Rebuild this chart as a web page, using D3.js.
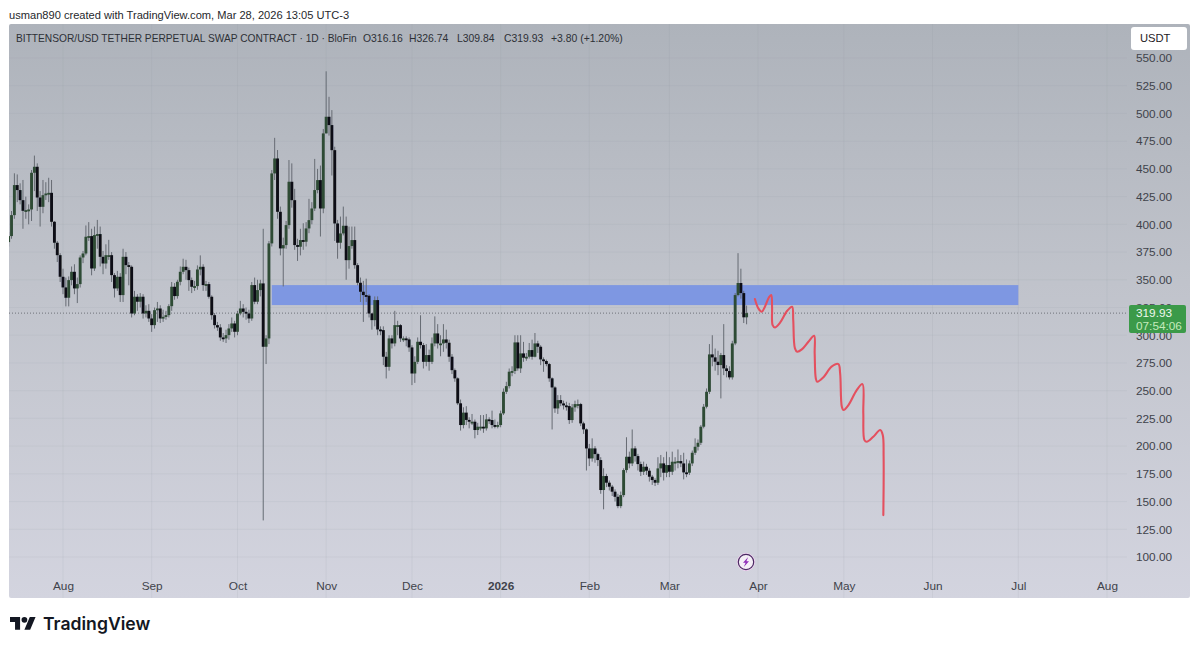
<!DOCTYPE html>
<meta charset="utf-8">
<style>

html, body {
  margin: 0;
  background: #fff;
  overflow: hidden;
}

text {
  font-family: "Liberation Sans", Arial, sans-serif;
}

.tick text {
  fill: #3f434b;
  font-size: 11.8px;
}

</style>
<body>
<script src="https://d3js.org/d3.v7.js"></script>
<script>

const width = 1199;

const height = 650;

const pane = {left: 9, right: 1190, top: 24, bottom: 598};

const plotRight = 1127;

// first candle of the chart, one candle a day from here
const firstDay = new Date(2025, 6, 13);

const closes = [
  389.4, 408.3, 435.4, 430.9, 421.8, 412.2, 412.8, 413.4, 446.5, 451.9,
  424.2, 415.8, 426.3, 427.8, 428.4, 402.3, 383.4, 372.2, 352.7, 343.1,
  333.8, 349.7, 357.2, 342.2, 346.1, 370.1, 373.7, 388.8, 389.4, 360.2,
  390.3, 391.2, 370.7, 364.7, 372.2, 372.2, 354.2, 342.2, 352.7, 336.2,
  370.7, 363.2, 361.7, 319.6, 334.7, 330.2, 334.7, 319.6, 322.0, 315.1,
  309.1, 322.6, 324.1, 315.1, 316.6, 318.1, 326.2, 343.7, 335.3, 348.2,
  357.2, 361.7, 358.7, 349.7, 343.7, 344.3, 359.3, 361.7, 345.2, 346.1,
  334.7, 318.1, 309.1, 307.0, 298.0, 297.1, 300.1, 306.1, 310.6, 303.1,
  319.6, 324.1, 321.1, 319.6, 315.1, 345.2, 330.2, 340.7, 346.7, 289.6,
  297.1, 382.8, 445.9, 459.4, 411.3, 378.3, 381.3, 399.3, 438.4, 421.8,
  381.3, 379.8, 385.8, 384.3, 396.3, 403.8, 414.3, 430.9, 439.9, 414.3,
  482.0, 497.0, 489.5, 466.9, 400.8, 383.4, 391.8, 398.7, 367.7, 380.4,
  385.8, 363.2, 347.3, 339.2, 336.2, 335.6, 319.6, 313.6, 331.7, 305.2,
  304.6, 280.6, 271.5, 297.1, 292.6, 309.1, 309.1, 297.1, 297.1, 296.2,
  289.0, 265.5, 276.0, 294.1, 291.1, 276.0, 282.1, 276.0, 292.6, 301.6,
  292.6, 292.6, 296.2, 293.2, 280.6, 268.5, 261.1, 238.6, 219.0, 230.2,
  223.6, 222.0, 222.0, 214.5, 217.5, 217.5, 216.0, 224.1, 223.5, 219.0,
  218.4, 219.0, 229.5, 249.0, 254.1, 267.1, 267.7, 293.5, 270.1, 283.6,
  279.7, 280.6, 286.6, 280.6, 292.6, 289.6, 278.2, 276.7, 274.0, 261.1,
  252.9, 234.0, 241.5, 238.5, 236.7, 236.1, 223.5, 234.9, 237.9, 237.9,
  220.5, 215.1, 197.9, 188.9, 197.9, 192.8, 187.4, 160.4, 173.0, 167.0,
  163.4, 158.9, 154.3, 145.9, 155.8, 178.4, 190.4, 184.4, 197.9, 191.0,
  183.8, 176.9, 181.4, 177.8, 172.4, 169.4, 167.0, 179.9, 184.4, 176.0,
  182.9, 176.9, 185.9, 185.9, 186.5, 184.4, 176.3, 176.0, 184.4, 194.0,
  199.4, 203.0, 217.5, 235.5, 249.0, 282.7, 280.0, 276.1, 273.1, 282.1,
  270.1, 267.7, 262.0, 292.6, 336.2, 347.1, 338.0, 316.16, 319.93
];

const highs = [
  393, 412, 446, 445, 437, 440, 425, 418, 449, 462,
  455, 430, 440, 438, 442, 440, 403, 385, 374, 360,
  352, 353, 362, 364, 352, 372, 376, 399, 402, 396,
  398, 404, 398, 376, 382, 386, 375, 356, 358, 356,
  378, 375, 366, 363, 340, 337, 338, 337, 327, 328,
  319, 325, 330, 327, 323, 322, 328, 348, 347, 350,
  362, 369, 368, 361, 352, 349, 363, 372, 364, 349,
  348, 336, 320, 312, 310, 302, 305, 310, 316, 313,
  322, 331, 328, 325, 323, 348, 352, 350, 350, 396,
  300, 385, 449, 478, 467, 416, 388, 403, 458, 455,
  432, 387, 396, 401, 402, 423, 420, 459, 450, 453,
  486, 538, 515, 503, 470, 404, 407, 416, 407, 398,
  398, 398, 365, 352, 349, 351, 337, 320, 335, 335,
  308, 308, 285, 300, 300, 322, 313, 310, 299, 299,
  298, 291, 281, 298, 318, 293, 292, 287, 298, 317,
  310, 300, 310, 305, 296, 283, 270, 262, 242, 235,
  236, 226, 229, 224, 221, 228, 228, 229, 226, 232,
  224, 222, 232, 252, 258, 270, 272, 300, 300, 300,
  294, 284, 293, 296, 302, 295, 291, 280, 278, 275,
  262, 254, 246, 246, 241, 240, 239, 238, 241, 242,
  239, 222, 216, 202, 207, 200, 194, 190, 180, 175,
  169, 165, 161, 157, 159, 180, 208, 195, 215, 200,
  193, 186, 186, 184, 180, 174, 171, 190, 192, 190,
  195, 190, 195, 190, 197, 192, 194, 188, 187, 196,
  207, 206, 219, 238, 252, 292, 300, 288, 286, 284,
  310, 273, 272, 295, 338, 374, 360, 340, 326.74
];

const lows = [
  380, 387, 405, 420, 418, 396, 405, 400, 403, 430,
  412, 398, 410, 422, 420, 398, 378, 366, 348, 337,
  326, 326, 345, 337, 329, 343, 365, 372, 385, 354,
  358, 378, 362, 355, 360, 368, 348, 334, 340, 330,
  330, 355, 345, 316, 318, 322, 325, 315, 316, 312,
  303, 306, 312, 311, 312, 314, 316, 322, 332, 333,
  345, 355, 350, 340, 338, 340, 341, 354, 340, 340,
  333, 314, 306, 304, 295, 294, 293, 296, 303, 298,
  300, 318, 316, 314, 311, 313, 328, 328, 335, 133,
  274, 292, 380, 440, 405, 372, 344, 378, 396, 415,
  377, 367, 372, 377, 380, 392, 400, 412, 428, 389,
  410, 482, 480, 444, 385, 369, 378, 390, 350, 360,
  378, 360, 345, 330, 312, 330, 316, 305, 308, 300,
  300, 273, 261, 268, 288, 290, 300, 294, 294, 290,
  285, 255, 257, 274, 288, 270, 272, 268, 274, 290,
  288, 281, 285, 288, 276, 265, 258, 237, 214, 216,
  219, 216, 219, 207, 210, 214, 212, 214, 220, 216,
  216, 216, 217, 228, 247, 252, 263, 265, 268, 266,
  276, 277, 279, 278, 280, 284, 273, 267, 272, 258,
  215, 230, 229, 236, 233, 232, 220, 221, 231, 234,
  218, 211, 178, 182, 186, 185, 182, 157, 143, 163,
  160, 155, 150, 144, 144, 154, 176, 180, 182, 186,
  178, 173, 174, 174, 168, 165, 164, 165, 172, 169,
  172, 172, 174, 178, 180, 181, 170, 172, 174, 182,
  192, 196, 201, 216, 234, 247, 272, 268, 264, 243,
  264, 262, 260, 260, 291, 335, 333, 311, 309.84
];

const firstOpen = 384;

// hand drawn projection: days after the last candle, and price
const sketchDays = [
  2.9, 4.1, 5.3, 6.4, 7.8, 8.6, 8.9, 9.1, 9.9, 11.7, 14.2, 15.9, 16.3,
  16.9, 17.7, 19.3, 21.6, 23.6, 23.8, 24.2, 24.7, 26.8, 29.7, 32.1, 32.7,
  33.3, 33.9, 35.6, 38.5, 40.5, 40.8, 41.2, 42.0, 44.3, 46.7, 47.6, 47.9, 47.8
];

const sketchPrices = [
  332.6, 324.2, 321.2, 325.7, 334.1, 336.2, 325.7, 309.1, 307.0, 311.3, 322.1, 325.7, 313.7,
  288.1, 285.1, 287.2, 294.1, 299.5, 283.6, 261.0, 258.0, 261.9, 271.6, 274.0, 265.6,
  235.5, 232.5, 237.0, 250.5, 255.9, 229.5, 205.4, 203.9, 208.4, 214.5, 210.0, 190.4, 137.8
];

const zoneDates = [new Date(2025, 9, 13), new Date(2026, 6, 1)];

const zonePrices = [345.2, 327.2];

const priceTicks = d3.range(100, 551, 25);

const monthTicks = [
  new Date(2025, 7, 1), new Date(2025, 8, 1), new Date(2025, 9, 1), new Date(2025, 10, 1),
  new Date(2025, 11, 1), new Date(2026, 0, 1), new Date(2026, 1, 1), new Date(2026, 2, 1),
  new Date(2026, 3, 1), new Date(2026, 4, 1), new Date(2026, 5, 1), new Date(2026, 6, 1),
  new Date(2026, 7, 1)
];

const lastPrice = 319.93;

const dayMs = 86400000;

const xScale = d3.scaleTime()
    .domain([new Date(2025, 7, 1), new Date(2026, 7, 1)])
    .range([63, 1107]);

const yScale = d3.scaleLinear()
    .domain([100, 550])
    .range([557, 58]);

const svg = d3.select("body").append("svg")
    .attr("width", width)
    .attr("height", height)
    .style("display", "block");

const defs = svg.append("defs");

const bg = defs.append("linearGradient")
    .attr("id", "paneBg")
    .attr("x1", 0).attr("x2", 0).attr("y1", 0).attr("y2", 1);

bg.append("stop").attr("offset", "0%").attr("stop-color", "#aeb3bb");
bg.append("stop").attr("offset", "45%").attr("stop-color", "#c0c3cb");
bg.append("stop").attr("offset", "100%").attr("stop-color", "#d3d4df");

defs.append("clipPath")
    .attr("id", "plotClip")
  .append("rect")
    .attr("x", pane.left)
    .attr("y", pane.top)
    .attr("width", plotRight - pane.left)
    .attr("height", pane.bottom - pane.top);

defs.append("filter")
    .attr("id", "soft")
    .attr("x", "-5%").attr("y", "-5%").attr("width", "110%").attr("height", "110%")
  .append("feGaussianBlur")
    .attr("stdDeviation", 0.35);

svg.append("text")
    .attr("x", 9)
    .attr("y", 19)
    .attr("font-size", 11.1)
    .attr("fill", "#26282c")
    .text("usman890 created with TradingView.com, Mar 28, 2026 13:05 UTC-3");

svg.append("rect")
    .attr("x", pane.left)
    .attr("y", pane.top)
    .attr("width", pane.right - pane.left)
    .attr("height", pane.bottom - pane.top)
    .attr("rx", 2)
    .attr("fill", "url(#paneBg)");

// grid
const plot = svg.append("g").attr("clip-path", "url(#plotClip)");

plot.selectAll("line.hgrid")
    .data(priceTicks)
    .enter()
    .append("line")
      .attr("class", "hgrid")
      .attr("x1", pane.left)
      .attr("x2", plotRight)
      .attr("y1", d => yScale(d))
      .attr("y2", d => yScale(d))
      .attr("stroke", "#8d929c")
      .attr("stroke-opacity", 0.1);

plot.selectAll("line.vgrid")
    .data(monthTicks)
    .enter()
    .append("line")
      .attr("class", "vgrid")
      .attr("x1", d => xScale(d))
      .attr("x2", d => xScale(d))
      .attr("y1", pane.top)
      .attr("y2", pane.bottom)
      .attr("stroke", "#8d929c")
      .attr("stroke-opacity", 0.12);

plot.append("rect")
    .attr("x", xScale(zoneDates[0]))
    .attr("y", yScale(zonePrices[0]))
    .attr("width", xScale(zoneDates[1]) - xScale(zoneDates[0]))
    .attr("height", yScale(zonePrices[1]) - yScale(zonePrices[0]))
    .attr("fill", "#7e97e2");

plot.append("line")
    .attr("x1", pane.left)
    .attr("x2", plotRight)
    .attr("y1", yScale(lastPrice))
    .attr("y2", yScale(lastPrice))
    .attr("stroke", "#6f737a")
    .attr("stroke-dasharray", "1 2");

// candles
const candles = closes.map((close, i) => ({
  date: new Date(firstDay.getTime() + i * dayMs),
  open: i ? closes[i - 1] : firstOpen,
  close: close,
  high: highs[i],
  low: lows[i]
}));

const candleG = plot.append("g").attr("filter", "url(#soft)");

candleG.selectAll("line.wick")
    .data(candles)
    .enter()
    .append("line")
      .attr("class", "wick")
      .attr("x1", d => xScale(d.date))
      .attr("x2", d => xScale(d.date))
      .attr("y1", d => yScale(d.high))
      .attr("y2", d => yScale(d.low))
      .attr("stroke", "#666b73")
      .attr("stroke-width", 1);

candleG.selectAll("rect.body")
    .data(candles)
    .enter()
    .append("rect")
      .attr("class", "body")
      .attr("x", d => xScale(d.date) - 1.45)
      .attr("width", 2.9)
      .attr("y", d => yScale(Math.max(d.open, d.close)))
      .attr("height", d => Math.max(1.8, Math.abs(yScale(d.open) - yScale(d.close))))
      .attr("fill", d => d.close >= d.open ? "#2f4b36" : "#0c0f15");

// projection
const sketchLine = d3.line()
    .x(d => xScale(new Date(candles[candles.length - 1].date.getTime() + d[0] * dayMs)))
    .y(d => yScale(d[1]))
    .curve(d3.curveCatmullRom.alpha(0.5));

plot.append("path")
    .attr("d", sketchLine(sketchDays.map((d, i) => [d, sketchPrices[i]])))
    .attr("fill", "none")
    .attr("stroke", "#e4505f")
    .attr("stroke-width", 2.1)
    .attr("stroke-linejoin", "round")
    .attr("stroke-linecap", "round");

// axes
const yAxis = d3.axisRight(yScale)
    .tickValues(priceTicks)
    .tickFormat(d3.format(".2f"))
    .tickSize(0)
    .tickPadding(0);

svg.append("g")
    .attr("transform", "translate(1136, 0)")
    .call(yAxis)
    .call(g => g.select(".domain").remove());

const monthFormat = d3.timeFormat("%b");

const xAxis = d3.axisBottom(xScale)
    .tickValues(monthTicks)
    .tickFormat(d => d.getMonth() === 0 ? d.getFullYear() : monthFormat(d))
    .tickSize(0)
    .tickPadding(0);

svg.append("g")
    .attr("transform", "translate(0, 582)")
    .call(xAxis)
    .call(g => g.select(".domain").remove())
    .call(g => g.selectAll(".tick text")
        .filter(d => d.getMonth() === 0)
        .style("font-weight", 700));

// legend line
const legend = svg.append("text")
    .attr("x", 16)
    .attr("y", 42)
    .attr("font-size", 10.4)
    .attr("fill", "#2d3036");

legend.append("tspan")
    .attr("font-size", 10.2)
    .text("BITTENSOR/USD TETHER PERPETUAL SWAP CONTRACT · 1D · BloFin");

legend.append("tspan").attr("x", 363).text("O316.16");
legend.append("tspan").attr("x", 409).text("H326.74");
legend.append("tspan").attr("x", 457).text("L309.84");
legend.append("tspan").attr("x", 504).text("C319.93");
legend.append("tspan").attr("x", 551).text("+3.80 (+1.20%)");

// currency button
svg.append("rect")
    .attr("x", 1131)
    .attr("y", 27)
    .attr("width", 56)
    .attr("height", 23)
    .attr("rx", 3)
    .attr("fill", "#fff");

svg.append("text")
    .attr("x", 1140)
    .attr("y", 42)
    .attr("font-size", 11.2)
    .attr("fill", "#1f2125")
    .text("USDT");

// last price tag
svg.append("rect")
    .attr("x", 1129)
    .attr("y", 305)
    .attr("width", 57)
    .attr("height", 28)
    .attr("rx", 2)
    .attr("fill", "#3b9a49");

svg.append("text")
    .attr("x", 1136)
    .attr("y", 317)
    .attr("font-size", 11.8)
    .attr("fill", "#eef7ec")
    .text(d3.format(".2f")(lastPrice));

svg.append("text")
    .attr("x", 1136)
    .attr("y", 329.5)
    .attr("font-size", 11.8)
    .attr("fill", "#c4eabb")
    .text("07:54:06");

// event marker
const marker = svg.append("g").attr("transform", "translate(746, 562)");

marker.append("circle")
    .attr("r", 9)
    .attr("fill", "#f3d2f2");

marker.append("circle")
    .attr("r", 7.7)
    .attr("fill", "#f4eef6")
    .attr("stroke", "#4a2a63")
    .attr("stroke-width", 1.2);

marker.append("path")
    .attr("d", "M2.2,-5 L-3,0.8 L-0.4,0.8 L-2.2,5 L3,-0.8 L0.4,-0.8 Z")
    .attr("fill", "#8e2cb8");

// brand
svg.append("path")
    .attr("transform", "translate(10, 614) scale(0.72)")
    .attr("d", "M14 22H7V11H0V4h14v18zM28 22h-8l7.5-18h8L28 22z")
    .attr("fill", "#131722");

svg.append("circle")
    .attr("transform", "translate(10, 614) scale(0.72)")
    .attr("cx", 20)
    .attr("cy", 8)
    .attr("r", 4)
    .attr("fill", "#131722");

svg.append("text")
    .attr("x", 43)
    .attr("y", 630)
    .attr("font-size", 17.6)
    .attr("font-weight", 600)
    .style("font-family", "Inter, sans-serif")
    .attr("fill", "#131722")
    .text("TradingView");

</script>
</body>
